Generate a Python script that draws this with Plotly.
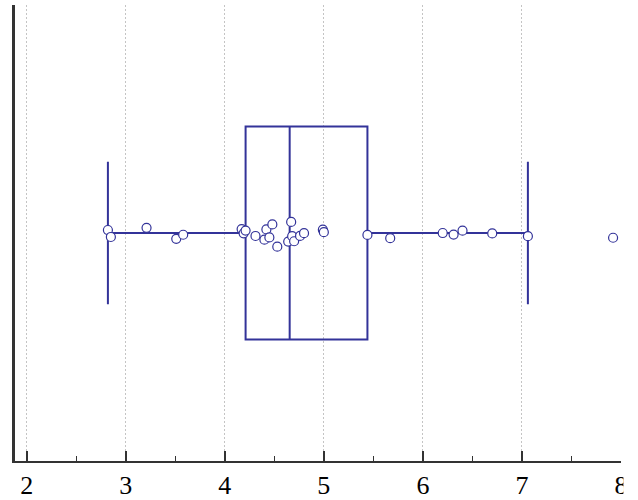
import plotly.graph_objects as go

# Sample values shown as one horizontal box with all points overlaid
values = [2.82, 2.85, 3.21, 3.51, 3.58, 4.17, 4.19, 4.21, 4.31, 4.40,
          4.42, 4.45, 4.48, 4.53, 4.64, 4.67, 4.68, 4.70, 4.76, 4.80,
          4.99, 5.00, 5.44, 5.67, 6.20, 6.31, 6.40, 6.70, 7.06, 7.92]
tick_values = [2, 3, 4, 5, 6, 7, 8]
tick_labels = ["2", "3", "4", "5", "6", "7", "8"]

navy = "#333399"

fig = go.Figure()
fig.add_trace(go.Box(
    x=values,
    y=[0] * len(values),
    orientation="h",
    quartilemethod="exclusive",
    boxpoints="all",
    jitter=0.14,
    pointpos=0,
    width=0.934,
    whiskerwidth=0.67,
    fillcolor="rgba(0,0,0,0)",
    line=dict(color=navy, width=2),
    marker=dict(color="white", size=9, line=dict(color=navy, width=1.2)),
    hoverinfo="x",
    showlegend=False,
))

fig.update_layout(
    width=638, height=500,
    margin=dict(l=15, r=16.5, t=5, b=39, autoexpand=False),
    paper_bgcolor="white", plot_bgcolor="white",
    font=dict(family="Liberation Serif", size=26, color="black"),
    xaxis=dict(
        range=[1.882, 8.0],
        automargin=False,
        tickvals=tick_values, ticktext=tick_labels,
        tickfont=dict(family="Liberation Serif", size=26, color="black"),
        ticks="inside", ticklen=10, tickwidth=2, tickcolor="#333333",
        minor=dict(dtick=0.5, tick0=0.5, ticks="inside", ticklen=5, tickwidth=1,
                   tickcolor="#333333", showgrid=False),
        showline=True, linecolor="#333333", linewidth=2,
        showgrid=True, gridcolor="#c4c4c4", gridwidth=1, griddash="2px,2px",
        zeroline=False, fixedrange=True,
    ),
    yaxis=dict(
        range=[-1, 1],
        automargin=False,
        showticklabels=False, ticks="",
        showline=True, linecolor="#333333", linewidth=3,
        showgrid=False, zeroline=False, fixedrange=True,
    ),
    # the drawing is cut off just past the right end of the axis
    shapes=[dict(type="rect", xref="paper", yref="paper",
                 x0=1.004, x1=1.1, y0=-0.2, y1=1.05,
                 fillcolor="white", line=dict(width=0), layer="above")],
)

fig.write_html("out.html")
